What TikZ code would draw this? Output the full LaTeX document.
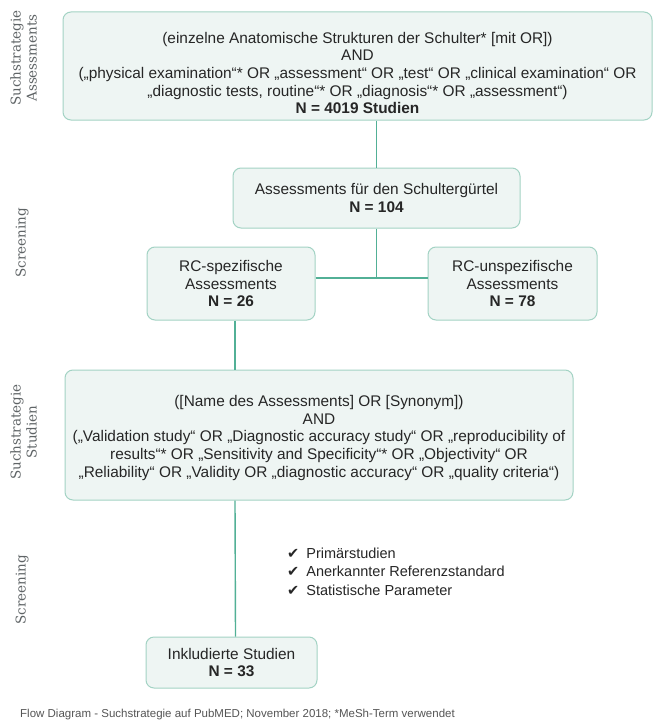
\documentclass[tikz,border=0pt]{standalone}
\usepackage{fontspec}
\setmainfont{Liberation Sans}
\newfontfamily\sidefont{DejaVu Serif}
\newfontfamily\symfont{DejaVu Sans}
\definecolor{boxfill}{HTML}{EEF5F3}
\definecolor{boxline}{HTML}{A3D3C4}
\definecolor{connclr}{HTML}{52B096}
\definecolor{txt}{HTML}{262626}
\definecolor{sideclr}{HTML}{5F6466}
\definecolor{capclr}{HTML}{555555}
\begin{document}
\begin{tikzpicture}[x=1pt,y=-1pt,
  box/.style={draw=boxline, line width=1pt, fill=boxfill, rounded corners=8pt, inner sep=0pt},
  btext/.style={text=txt, align=center, font=\fontsize{15.4}{17.6}\selectfont, inner sep=0pt},
  connline/.style={draw=connclr, line width=1.4pt},
  sidelab/.style={rotate=90, text=sideclr, align=center, font=\sidefont\fontsize{13.5}{16}\selectfont, inner sep=0pt}]
\useasboundingbox[fill=white] (0,0) rectangle (653,725);

% boxes
\node[box, minimum width=589pt, minimum height=108pt] (b1) at (357.5,66) {};
\node[box, minimum width=287pt, minimum height=60pt] (b2) at (376.5,198) {};
\node[box, minimum width=168pt, minimum height=73pt] (b3) at (231,283.5) {};
\node[box, minimum width=169pt, minimum height=73pt] (b4) at (512.5,283.5) {};
\node[box, minimum width=508pt, minimum height=130pt] (b5) at (319,435) {};
\node[box, minimum width=171pt, minimum height=51pt] (b6) at (231.5,662.5) {};

% texts
\node[btext] (t1) at (357.5,73) {(einzelne Anatomische Strukturen der Schulter* [mit OR])\\
AND\\
(„physical examination“* OR „assessment“ OR „test“ OR „clinical examination“ OR\\
„diagnostic tests, routine“* OR „diagnosis“* OR „assessment“)\\
\textbf{N = 4019 Studien}};
\node[btext] (t2) at (b2) {Assessments für den Schultergürtel\\ \textbf{N = 104}};
\node[btext] (t3) at (b3) {RC-spezifische\\ Assessments\\ \textbf{N = 26}};
\node[btext] (t4) at (b4) {RC-unspezifische\\ Assessments\\ \textbf{N = 78}};
\node[btext] (t5) at (319,438) {([Name des Assessments] OR [Synonym])\\
AND\\
(„Validation study“ OR „Diagnostic accuracy study“ OR „reproducibility of\\
results“* OR „Sensitivity and Specificity“* OR „Objectivity“ OR\\
„Reliability“ OR „Validity OR „diagnostic accuracy“ OR „quality criteria“)};
\node[btext] (t6) at (b6) {Inkludierte Studien\\ \textbf{N = 33}};

% criteria list
\node[text=txt, align=left, anchor=west, inner sep=0pt, font=\fontsize{14.5}{18.5}\selectfont] (crit) at (287,571.5)
  {{\symfont ✔}\hspace{7pt}Primärstudien\\
   {\symfont ✔}\hspace{7pt}Anerkannter Referenzstandard\\
   {\symfont ✔}\hspace{7pt}Statistische Parameter};

% connectors
\coordinate (j) at (376.5,278);
\draw[connline] (b1.south -| b2.north) -- (b2.north);
\draw[connline] (b2.south) -- (j);
\draw[connline] (b3.east |- j) -- (b4.west |- j);
\draw[connline] ([xshift=4pt]b3.south) -- ([xshift=4pt]b3.south |- b5.north);
\draw[connline] ([xshift=4pt]b3.south |- b5.south) -- ([xshift=4pt]b6.north);

% side labels
\node[sidelab] (s1) at (23.5,58) {Suchstrategie\\ Assessments};
\node[sidelab] (s2) at (22,243) {Screening};
\node[sidelab] (s3) at (23.5,432) {Suchstrategie\\ Studien};
\node[sidelab] (s4) at (22,590) {Screening};

% caption
\node[anchor=west, inner sep=0pt, text=capclr, font=\fontsize{11.5}{13}\selectfont] (cap) at (20,715)
  {Flow Diagram - Suchstrategie auf PubMED; November 2018; *MeSh-Term verwendet};
\end{tikzpicture}
\end{document}
